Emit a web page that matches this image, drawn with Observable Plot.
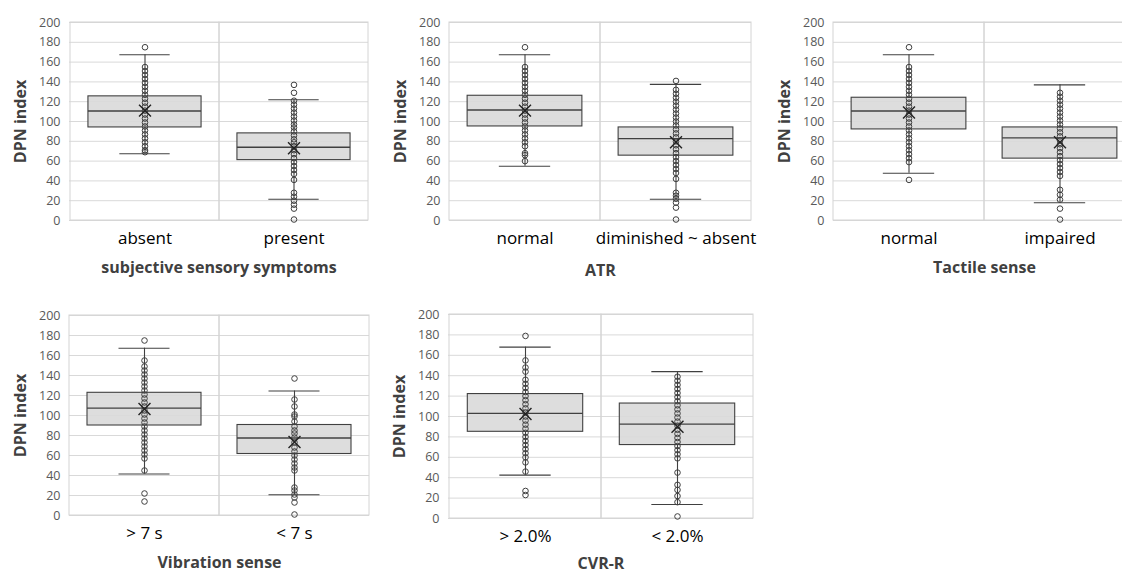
<!DOCTYPE html>
<html><head><meta charset="utf-8">
<script src="https://cdn.jsdelivr.net/npm/d3@7"></script>
<script src="https://cdn.jsdelivr.net/npm/@observablehq/plot@0.6"></script>
<style>
html,body{margin:0;padding:0;background:#fff;width:1122px;height:572px;overflow:hidden;position:relative;font-family:"Open Sans",sans-serif}
.panel{position:absolute}
.panel svg{max-width:none !important}
</style></head><body>
<script>
// ---------- data ----------
const yTicks = [0, 20, 40, 60, 80, 100, 120, 140, 160, 180, 200];
const yLabel = "DPN index";
const panelTitles = ["subjective sensory symptoms", "ATR", "Tactile sense", "Vibration sense", "CVR-R"];
const panelCategories = [
  ["absent", "present"],
  ["normal", "diminished ~ absent"],
  ["normal", "impaired"],
  ["> 7 s", "< 7 s"],
  ["> 2.0%", "< 2.0%"]
];
const q1Values     = [[94, 61], [95, 65.5], [92, 62.5], [90, 61.5], [85, 72]];
const medianValues = [[110.6, 74], [111.6, 82.7], [110.6, 83.4], [107.3, 77.5], [103, 92.5]];
const q3Values     = [[125.4, 88], [126, 94], [124, 94], [122.7, 90.5], [122, 112.7]];
const whiskerLow   = [[67.5, 21.5], [54.8, 21.5], [47.7, 18], [41.5, 20.7], [42.5, 13.7]];
const whiskerHigh  = [[167.4, 122], [167.4, 137.5], [167.4, 137], [167.3, 124.5], [168, 144]];
const meanValues   = [[111, 73], [111, 79], [109, 79], [106.5, 73.5], [102.5, 90]];
const pointValues = [
  [
    [175, 155, 151, 147, 143, 139, 135, 131, 127, 123, 119, 115, 111, 107, 103, 99, 95, 91, 87, 83, 79, 75, 71, 69],
    [137, 129, 121, 117, 113, 109, 105, 101, 97, 94, 90, 86, 82, 79, 75, 71, 67, 63, 59, 55, 51, 47, 41, 28, 24, 20, 16, 12, 1]
  ],
  [
    [175, 155, 151, 147, 143, 139, 135, 131, 127, 123, 119, 115, 111, 107, 103, 99, 95, 91, 87, 83, 79, 75, 68, 66, 60],
    [141, 132, 128, 124, 120, 116, 112, 108, 104, 100, 96, 92, 88, 84, 80, 76, 72, 68, 64, 60, 56, 52, 48, 42, 28, 25, 22, 18, 13, 1]
  ],
  [
    [175, 155, 151, 147, 143, 139, 135, 131, 127, 123, 119, 115, 111, 107, 103, 99, 95, 91, 87, 83, 79, 75, 71, 67, 63, 59, 41],
    [129, 125, 121, 117, 113, 109, 105, 101, 97, 93, 89, 85, 81, 77, 73, 69, 65, 61, 57, 53, 49, 45, 31, 26, 21, 12, 1]
  ],
  [
    [175, 155, 149, 145, 141, 137, 133, 129, 125, 121, 117, 113, 109, 105, 101, 97, 93, 89, 85, 81, 77, 73, 69, 65, 61, 57, 45, 22, 14],
    [137, 116, 109, 101, 99, 94, 89, 85, 82, 78, 73, 68, 64, 60, 56, 52, 48, 45, 28, 25, 21, 18, 13, 1]
  ],
  [
    [179, 155, 148, 144, 136, 132, 128, 124, 120, 116, 112, 108, 104, 100, 96, 92, 88, 84, 80, 76, 72, 68, 64, 60, 55, 46, 27, 23],
    [139, 135, 131, 127, 123, 119, 115, 111, 107, 103, 99, 95, 91, 87, 83, 79, 75, 71, 67, 63, 59, 45, 33, 28, 22, 16, 2]
  ]
];

// ---------- layout (frame positions in the page) ----------
const layout = [
  {left: 69,  top: 22,  w: 299, h: 198, titleDy: 52},
  {left: 449, top: 22,  w: 302, h: 198, titleDy: 55},
  {left: 833, top: 22,  w: 302, h: 198, titleDy: 52},
  {left: 69,  top: 315, w: 300, h: 200, titleDy: 52},
  {left: 448, top: 314, w: 305, h: 204, titleDy: 50}
];

const mL = 69, mT = 22, mR = 12, mB = 64;

function panel(i) {
  const f = layout[i];
  const cats = panelCategories[i];
  const stats = cats.map((c, j) => ({
    c, q1: q1Values[i][j], med: medianValues[i][j], q3: q3Values[i][j],
    lo: whiskerLow[i][j], hi: whiskerHigh[i][j], mean: meanValues[i][j]
  }));
  const pts = cats.flatMap((c, j) => pointValues[i][j].map(v => ({c, v})));
  const bw = f.w / 2;
  const boxInset = bw * 0.12;
  const capInset = bw * 0.33;
  const W = mL + f.w + mR, H = mT + f.h + mB;
  const chart = Plot.plot({
    width: W,
    height: H,
    marginLeft: mL, marginTop: mT, marginRight: mR, marginBottom: mB,
    style: {fontFamily: "'Open Sans', sans-serif", background: "transparent", overflow: "visible"},
    x: {domain: cats, padding: 0},
    y: {domain: [0, 200]},
    marks: [
      Plot.ruleY(yTicks, {stroke: "#d9d9d9", strokeWidth: 1}),
      Plot.barY(cats, {x: d => d, y1: 0, y2: 200, fill: "none", stroke: "#d4d4d4"}),
      Plot.ruleX(stats, {x: "c", y1: "lo", y2: "hi", stroke: "#404040", strokeWidth: 1.1}),
      Plot.barY(stats, {x: "c", y1: "q1", y2: "q3", fill: "#d9d9d9", fillOpacity: 0.9, stroke: "#404040", strokeWidth: 1.1, insetLeft: boxInset, insetRight: boxInset}),
      Plot.tickY(stats, {x: "c", y: "med", stroke: "#404040", strokeWidth: 1.3, insetLeft: boxInset, insetRight: boxInset}),
      Plot.tickY(stats, {x: "c", y: "lo", stroke: "#404040", strokeWidth: 1.1, insetLeft: capInset, insetRight: capInset}),
      Plot.tickY(stats, {x: "c", y: "hi", stroke: "#404040", strokeWidth: 1.1, insetLeft: capInset, insetRight: capInset}),
      Plot.dot(pts, {x: "c", y: "v", r: 2.8, stroke: "#404040", strokeWidth: 1, fill: "none"}),
      Plot.dot(stats, {x: "c", y: "mean", symbol: "times", r: 5.5, stroke: "#222", strokeWidth: 1.4}),
      Plot.axisY({ticks: yTicks, tickSize: 0, tickPadding: 9, fontSize: 12.5, fill: "#595959", label: null}),
      Plot.axisX({tickSize: 0, tickPadding: 11, fontSize: 17, fill: "#000", label: null}),
      Plot.text([panelTitles[i]], {frameAnchor: "bottom", dy: f.titleDy, fontWeight: "bold", fontSize: 16, fill: "#404040"}),
      Plot.text([yLabel], {frameAnchor: "left", textAnchor: "middle", lineAnchor: "middle", dx: -49, rotate: -90, fontWeight: "bold", fontSize: 16, fill: "#404040"})
    ]
  });
  const div = document.createElement("div");
  div.className = "panel";
  div.style.left = (f.left - mL) + "px";
  div.style.top = (f.top - mT) + "px";
  div.style.width = W + "px";
  div.style.height = H + "px";
  div.appendChild(chart);
  document.body.appendChild(div);
}

for (let i = 0; i < 5; i++) panel(i);
</script>
</body></html>
